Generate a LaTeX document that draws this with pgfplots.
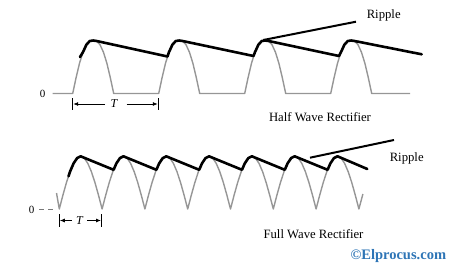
\documentclass[border=0pt]{standalone}
\usepackage{pgfplots}
\pgfplotsset{compat=1.18}
\usepackage{fontspec}
\setmainfont{Liberation Serif}
\usetikzlibrary{arrows.meta}
\definecolor{wavegray}{RGB}{150,150,150}
\definecolor{elblue}{RGB}{46,117,182}
\begin{document}
\begin{tikzpicture}
\begin{axis}[scale only axis, width=475pt, height=268pt,
  xmin=0, xmax=475, ymin=0, ymax=268, y dir=reverse,
  axis lines=none, clip=false]
% keep the full canvas as bounding box
\path (axis cs:0,0) rectangle (axis cs:475,268);
% ---------- Half wave: rectified signal ----------
\addplot[wavegray, line width=1.4pt, line join=round] coordinates {
(52.7,93.5)(72.7,93.5)(76.1,77.6)(79.5,63.3)(82.95,52.2)(86.4,44.7)(89.8,41.0)(93.2,40.5)(96.6,41.0)(100.0,44.7)(103.45,52.2)(106.9,63.3)(110.3,77.6)(113.7,93.5)
(158.7,93.5)(162.1,77.6)(165.5,63.3)(168.95,52.2)(172.4,44.7)(175.8,41.0)(179.2,40.5)(182.6,41.0)(186.0,44.7)(189.45,52.2)(192.9,63.3)(196.3,77.6)(199.7,93.5)
(244.7,93.5)(248.1,77.6)(251.5,63.3)(254.95,52.2)(258.4,44.7)(261.8,41.0)(265.2,40.5)(268.6,41.0)(272.0,44.7)(275.45,52.2)(278.9,63.3)(282.3,77.6)(285.7,93.5)
(330.7,93.5)(334.1,77.6)(337.5,63.3)(340.95,52.2)(344.4,44.7)(347.8,41.0)(351.2,40.5)(354.6,41.0)(358.0,44.7)(361.45,52.2)(364.9,63.3)(368.3,77.6)(371.7,93.5)(410,93.5)};
% ---------- Half wave: filtered output ----------
\addplot[black, line width=2.6pt, line join=round, line cap=round] coordinates {
(80,57)(82.95,52.2)(86.4,44.7)(89.8,41.0)(93.2,40.5)(96.6,41.0)
(167.5,56.5)(168.95,52.2)(172.4,44.7)(175.8,41.0)(179.2,40.5)(182.6,41.0)
(253.5,56.0)(254.95,52.2)(258.4,44.7)(261.8,41.0)(265.2,40.5)(268.6,41.0)
(339.0,56.0)(340.95,52.2)(344.4,44.7)(347.8,41.0)(351.2,40.5)(354.6,41.0)
(421.7,54.3)};
\addplot[black, line width=2pt] coordinates {(263.3,40)(356,21.7)};
% ---------- Full wave: rectified signal ----------
\addplot[wavegray, line width=1.4pt, line join=round] coordinates {
(56.5,193)(59.3,209)
(62.87,195.3)(66.43,182.6)(70.0,171.7)(73.57,163.4)(77.13,158.1)(80.7,156.3)(84.27,158.1)(87.83,163.4)(91.4,171.7)(94.97,182.6)(98.53,195.3)(102.1,209)
(105.67,195.3)(109.23,182.6)(112.8,171.7)(116.37,163.4)(119.93,158.1)(123.5,156.3)(127.07,158.1)(130.63,163.4)(134.2,171.7)(137.77,182.6)(141.33,195.3)(144.9,209)
(148.47,195.3)(152.03,182.6)(155.6,171.7)(159.17,163.4)(162.73,158.1)(166.3,156.3)(169.87,158.1)(173.43,163.4)(177.0,171.7)(180.57,182.6)(184.13,195.3)(187.7,209)
(191.27,195.3)(194.83,182.6)(198.4,171.7)(201.97,163.4)(205.53,158.1)(209.1,156.3)(212.67,158.1)(216.23,163.4)(219.8,171.7)(223.37,182.6)(226.93,195.3)(230.5,209)
(234.07,195.3)(237.63,182.6)(241.2,171.7)(244.77,163.4)(248.33,158.1)(251.9,156.3)(255.47,158.1)(259.03,163.4)(262.6,171.7)(266.17,182.6)(269.73,195.3)(273.3,209)
(276.87,195.3)(280.43,182.6)(284.0,171.7)(287.57,163.4)(291.13,158.1)(294.7,156.3)(298.27,158.1)(301.83,163.4)(305.4,171.7)(308.97,182.6)(312.53,195.3)(316.1,209)
(319.67,195.3)(323.23,182.6)(326.8,171.7)(330.37,163.4)(333.93,158.1)(337.5,156.3)(341.07,158.1)(344.63,163.4)(348.2,171.7)(351.77,182.6)(355.33,195.3)(358.9,209)
(362.9,194)};
% ---------- Full wave: filtered output ----------
\addplot[black, line width=2.6pt, line join=round, line cap=round] coordinates {
(68.5,176.3)(70.0,171.7)(73.57,163.4)(77.13,158.1)(80.7,156.3)(83.3,157.4)
(113.6,169.8)(116.37,163.4)(119.93,158.1)(123.5,156.3)(126.1,157.4)
(156.4,169.8)(159.17,163.4)(162.73,158.1)(166.3,156.3)(168.9,157.4)
(199.2,169.8)(201.97,163.4)(205.53,158.1)(209.1,156.3)(211.7,157.4)
(242.0,169.8)(244.77,163.4)(248.33,158.1)(251.9,156.3)(254.5,157.4)
(284.8,169.8)(287.57,163.4)(291.13,158.1)(294.7,156.3)(297.3,157.4)
(327.6,169.8)(330.37,163.4)(333.93,158.1)(337.5,156.3)(340.1,157.4)
(367.3,169)};
\addplot[black, line width=2pt] coordinates {(310,157.7)(394,140)};
% zero reference dashes (full wave)
\addplot[wavegray!80!black, line width=1pt, dash pattern=on 4.7pt off 4.3pt] coordinates {(39.3,209)(53.5,209)};
% ---------- T markers ----------
\draw[black, line width=0.8pt] (72.7,98) -- (72.7,110);
\draw[black, line width=0.8pt] (158.3,98) -- (158.3,110);
\draw[black, line width=0.8pt, -{Latex[length=5pt,width=4pt]}] (105,104) -- (73.2,104);
\draw[black, line width=0.8pt, -{Latex[length=5pt,width=4pt]}] (126.5,104) -- (157.8,104);
\node[font=\fontsize{12}{14}\selectfont\itshape] at (114,104) {T};
\draw[black, line width=0.8pt] (59.3,214) -- (59.3,227);
\draw[black, line width=0.8pt] (101.5,214) -- (101.5,227);
\draw[black, line width=0.8pt, -{Latex[length=5pt,width=4pt]}] (71.5,220.5) -- (59.8,220.5);
\draw[black, line width=0.8pt, -{Latex[length=5pt,width=4pt]}] (87,220.5) -- (101,220.5);
\node[font=\fontsize{12}{14}\selectfont\itshape] at (79.5,220.5) {T};
% ---------- labels ----------
\node[font=\fontsize{11}{13}\selectfont] at (42.5,93.5) {0};
\node[font=\fontsize{11}{13}\selectfont] at (31.5,210) {0};
\node[font=\fontsize{12.7}{15}\selectfont] at (383.7,15) {Ripple};
\node[font=\fontsize{12.7}{15}\selectfont] at (406.7,158.3) {Ripple};
\node[font=\fontsize{12.7}{15}\selectfont] at (320,117) {Half Wave Rectifier};
\node[font=\fontsize{12.7}{15}\selectfont] at (313.5,234) {Full Wave Rectifier};
\node[font=\fontsize{14.5}{17}\selectfont\bfseries, text=elblue] at (398.3,256.5) {©Elprocus.com};
\end{axis}
\end{tikzpicture}
\end{document}
